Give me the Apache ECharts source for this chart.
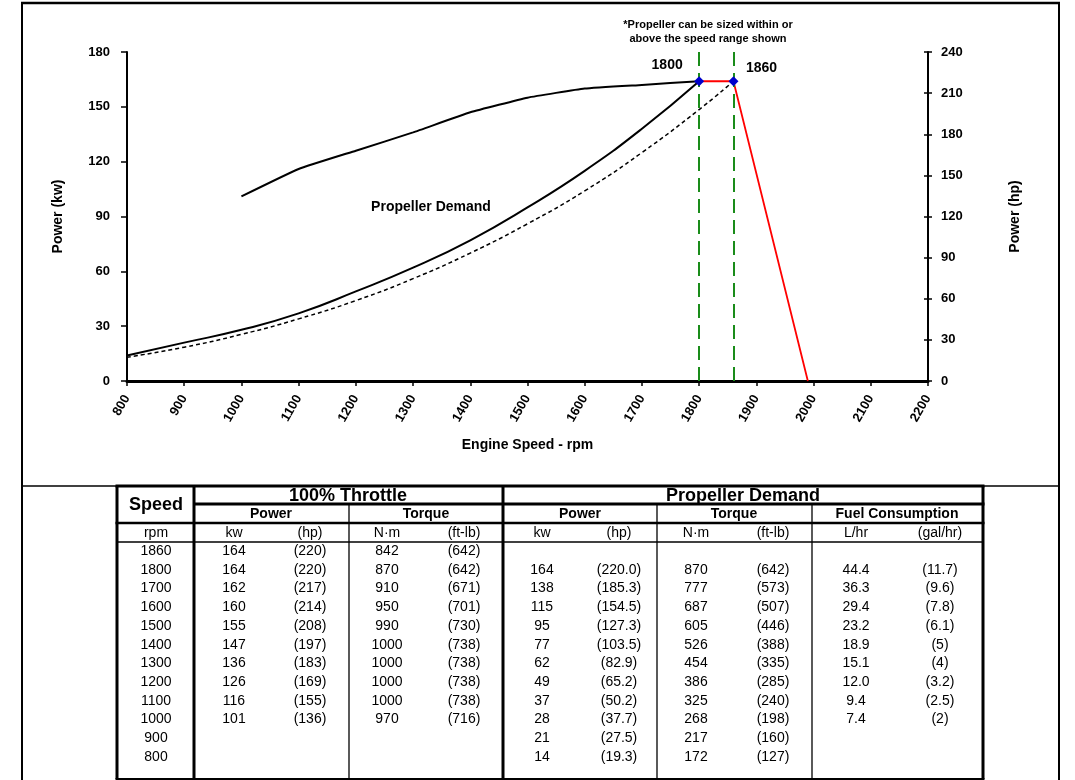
<!DOCTYPE html>
<html>
<head>
<meta charset="utf-8">
<script src="https://cdn.jsdelivr.net/npm/echarts@6/dist/echarts.min.js"></script>
<style>
  html, body { margin: 0; padding: 0; background: #fff; }
  #chart { width: 1075px; height: 780px; }
</style>
</head>
<body>
<div id="chart"></div>
<script>
// ---------------- DATA ----------------
var speeds       = [1860, 1800, 1700, 1600, 1500, 1400, 1300, 1200, 1100, 1000, 900, 800];
var throttleKw   = [164, 164, 162, 160, 155, 147, 136, 126, 116, 101, null, null];
var throttleHp   = [220, 220, 217, 214, 208, 197, 183, 169, 155, 136, null, null];
var throttleNm   = [842, 870, 910, 950, 990, 1000, 1000, 1000, 1000, 970, null, null];
var throttleFtLb = [642, 642, 671, 701, 730, 738, 738, 738, 738, 716, null, null];
var propKw       = [null, 164, 138, 115, 95, 77, 62, 49, 37, 28, 21, 14];
var propHp       = [null, '220.0', '185.3', '154.5', '127.3', '103.5', '82.9', '65.2', '50.2', '37.7', '27.5', '19.3'];
var propNm       = [null, 870, 777, 687, 605, 526, 454, 386, 325, 268, 217, 172];
var propFtLb     = [null, 642, 573, 507, 446, 388, 335, 285, 240, 198, 160, 127];
var fuelLhr      = [null, '44.4', '36.3', '29.4', '23.2', '18.9', '15.1', '12.0', '9.4', '7.4', null, null];
var fuelGal      = [null, '11.7', '9.6', '7.8', '6.1', '5', '4', '3.2', '2.5', '2', null, null];

// governor droop line
var govRpm = [1800, 1860, 1990];
var govKw  = [164, 164, 0];
// propeller curve sized for 1860 rpm (dashed)
var dashRpm = [800, 900, 1000, 1100, 1200, 1300, 1400, 1500, 1600, 1700, 1800, 1860];
var dashKw  = [13, 18.5, 25.5, 34, 44, 56, 70, 86, 104, 125, 148.5, 164];
// rated points
var ratedRpm = [1800, 1860];
var ratedKw  = [164, 164];

// table header texts
var groupHeaders = ['100% Throttle', 'Propeller Demand'];
var subHeaders   = ['Power', 'Torque', 'Power', 'Torque', 'Fuel Consumption'];
var unitHeaders  = ['rpm', 'kw', '(hp)', 'N\u00b7m', '(ft-lb)', 'kw', '(hp)', 'N\u00b7m', '(ft-lb)', 'L/hr', '(gal/hr)'];

// ---------------- BUILD ----------------
var FONT = '"Liberation Sans", Arial, sans-serif';
function pairs(xs, ys, from) {
  var out = [];
  for (var i = from || 0; i < xs.length; i++) if (ys[i] !== null && ys[i] !== undefined) out.push([xs[i], ys[i]]);
  return out;
}
function paren(v) { return (v === null || v === undefined) ? '' : '(' + v + ')'; }
function plain(v) { return (v === null || v === undefined) ? '' : String(v); }

var throttleSeries = pairs(speeds, throttleKw, 1);
var propSeries = pairs(speeds, propKw, 1);
var govSeries = govRpm.map(function (r, i) { return [r, govKw[i]]; });
var dashSeries = dashRpm.map(function (r, i) { return [r, dashKw[i]]; });

// graphic helpers
function hl(x1, x2, y, w) {
  return { type: 'rect', silent: true, shape: { x: x1, y: y - w / 2, width: x2 - x1, height: w }, style: { fill: '#000' } };
}
function vl(x, y1, y2, w) {
  return { type: 'rect', silent: true, shape: { x: x - w / 2, y: y1, width: w, height: y2 - y1 }, style: { fill: '#000' } };
}
function tx(t, x, y, font) {
  return { type: 'text', silent: true, x: x, y: y,
    style: { text: t, font: font, fill: '#000', align: 'center', verticalAlign: 'middle', textAlign: 'center', textVerticalAlign: 'middle' } };
}

var G = [];
// outer frame of the figure
G.push(hl(21, 1060, 3, 2.5));
G.push(vl(22, 2, 780, 2));
G.push(vl(1059, 2, 780, 2));
G.push(hl(21, 1060, 486, 1.5));

// table lines
var tL = 117, tSpeed = 194, tThr = 503, tR = 983;
var thinCols = [349, 657, 812];
var yTop = 486, yG = 504, yS = 523, yU = 542, yBot = 779;
G.push(hl(tL - 1.5, tR + 1.5, yTop, 3));
G.push(hl(tSpeed, tR + 1.5, yG, 3));
G.push(hl(tL - 1.5, tR + 1.5, yS, 2.5));
G.push(hl(tL, tR, yU, 1.3));
G.push(hl(tL - 1.5, tR + 1.5, yBot, 2));
G.push(vl(tL, yTop, yBot, 3));
G.push(vl(tSpeed, yTop, yBot, 3));
G.push(vl(tThr, yTop, yBot, 3));
G.push(vl(tR, yTop, yBot, 3));
thinCols.forEach(function (x) { G.push(vl(x, yG, yBot, 1.3)); });

// table header texts
G.push(tx('Speed', 156, 505, 'bold 18px ' + FONT));
G.push(tx(groupHeaders[0], 348, 496, 'bold 18px ' + FONT));
G.push(tx(groupHeaders[1], 743, 496, 'bold 18px ' + FONT));
var subX = [271, 426, 580, 734, 897];
subHeaders.forEach(function (t, i) { G.push(tx(t, subX[i], 514, 'bold 14px ' + FONT)); });
var colX = [156, 234, 310, 387, 464, 542, 619, 696, 773, 856, 940];
unitHeaders.forEach(function (t, i) { G.push(tx(t, colX[i], 533, '14px ' + FONT)); });

// table data rows
var rowY0 = 551, rowStep = 18.73;
speeds.forEach(function (s, i) {
  var y = rowY0 + i * rowStep;
  var cells = [plain(s), plain(throttleKw[i]), paren(throttleHp[i]), plain(throttleNm[i]), paren(throttleFtLb[i]),
               plain(propKw[i]), paren(propHp[i]), plain(propNm[i]), paren(propFtLb[i]),
               plain(fuelLhr[i]), paren(fuelGal[i])];
  cells.forEach(function (c, j) { if (c) G.push(tx(c, colX[j], y, '14px ' + FONT)); });
});

// chart annotations
G.push(tx('*Propeller can be sized within or', 708, 25, 'bold 11px ' + FONT));
G.push(tx('above the speed range shown', 708, 39, 'bold 11px ' + FONT));
G.push(tx('Propeller Demand', 431, 207, 'bold 14px ' + FONT));

var axisFont = { color: '#000', fontWeight: 'bold', fontSize: 13, fontFamily: FONT };

var option = {
  animation: false,
  backgroundColor: '#fff',
  grid: { left: 127, right: 147, top: 52, bottom: 399 },
  xAxis: {
    type: 'value', min: 800, max: 2200, interval: 100,
    name: 'Engine Speed - rpm', nameLocation: 'middle', nameGap: 57,
    nameTextStyle: { color: '#000', fontWeight: 'bold', fontSize: 14, fontFamily: FONT },
    axisLine: { show: true, onZero: false, lineStyle: { color: '#000', width: 3 } },
    axisTick: { show: true, length: 5, lineStyle: { color: '#000', width: 1.5 } },
    axisLabel: Object.assign({ rotate: 60, margin: 15, formatter: function (v) { return String(v); } }, axisFont),
    splitLine: { show: false }
  },
  yAxis: [
    {
      type: 'value', min: 0, max: 180, interval: 30, position: 'left',
      name: 'Power (kw)', nameLocation: 'middle', nameGap: 62, nameRotate: 90,
      nameTextStyle: { color: '#000', fontWeight: 'bold', fontSize: 14, fontFamily: FONT },
      axisLine: { show: true, lineStyle: { color: '#000', width: 2 } },
      axisTick: { show: true, length: 6, lineStyle: { color: '#000', width: 1.5 } },
      axisLabel: Object.assign({ margin: 17 }, axisFont),
      splitLine: { show: false }
    },
    {
      type: 'value', min: 0, max: 240, interval: 30, position: 'right',
      name: 'Power (hp)', nameLocation: 'middle', nameGap: 80, nameRotate: 90,
      nameTextStyle: { color: '#000', fontWeight: 'bold', fontSize: 14, fontFamily: FONT },
      axisLine: { show: true, lineStyle: { color: '#000', width: 2 } },
      axisTick: { show: true, length: 4, lineStyle: { color: '#000', width: 1.5 } },
      axisLabel: Object.assign({ margin: 13 }, axisFont),
      splitLine: { show: false }
    },
    {
      type: 'value', min: 0, max: 240, interval: 30, position: 'right',
      axisLine: { show: false },
      axisTick: { show: true, inside: true, length: 4, lineStyle: { color: '#000', width: 1.5 } },
      axisLabel: { show: false },
      splitLine: { show: false }
    }
  ],
  series: [
    {
      type: 'line', name: 'rated', data: [], yAxisIndex: 0, silent: true,
      markLine: {
        symbol: 'none', silent: true, animation: false,
        label: { show: false },
        lineStyle: { color: '#1a8c1a', width: 2, type: [14, 7], opacity: 1 },
        data: ratedRpm.map(function (r) { return { xAxis: r }; })
      }
    },
    {
      type: 'line', name: '100% Throttle', data: throttleSeries, smooth: 0.12,
      symbol: 'none', lineStyle: { color: '#000', width: 2 }, z: 3
    },
    {
      type: 'line', name: 'Governor', data: govSeries,
      symbol: 'none', lineStyle: { color: '#ff0000', width: 1.8 }, z: 3
    },
    {
      type: 'line', name: 'Propeller Demand', data: propSeries, smooth: true,
      symbol: 'none', lineStyle: { color: '#000', width: 2 }, z: 3
    },
    {
      type: 'line', name: 'Propeller 1860', data: dashSeries, smooth: true,
      symbol: 'none', lineStyle: { color: '#000', width: 1.5, type: [4, 3] }, z: 3
    },
    {
      type: 'scatter', name: 'Rated', symbol: 'diamond', symbolSize: 10, z: 5,
      itemStyle: { color: '#0000cc', opacity: 1 },
      label: {
        show: true, position: 'top', opacity: 1,
        formatter: function (p) { return String(p.value[0]); },
        color: '#000', fontWeight: 'bold', fontSize: 14, fontFamily: FONT, textBorderWidth: 0
      },
      data: ratedRpm.map(function (r, i) {
        return {
          value: [r, ratedKw[i]],
          label: { offset: i === 0 ? [-32, 1] : [28, 4] }
        };
      })
    }
  ],
  graphic: G
};

var chart = echarts.init(document.getElementById('chart'), null, { renderer: 'canvas' });
chart.setOption(option);
</script>
</body>
</html>
